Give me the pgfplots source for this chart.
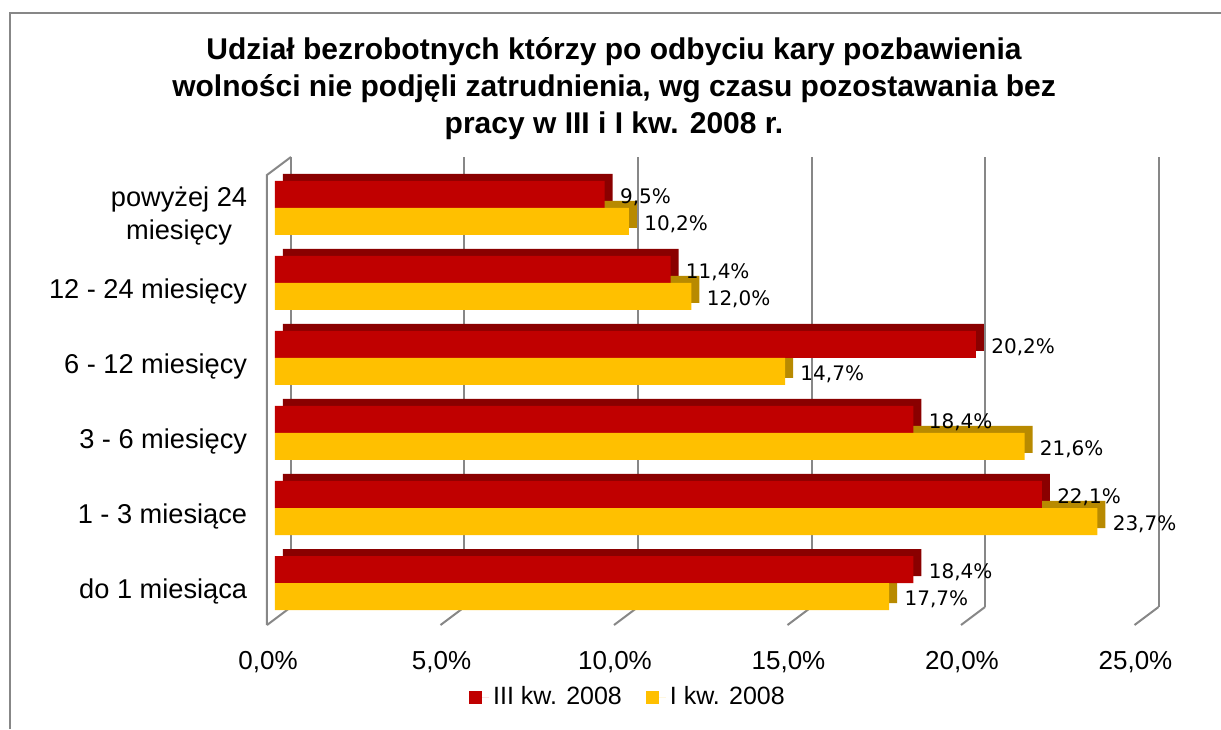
\documentclass[border=0pt]{standalone}
\usepackage{fontspec}
\setmainfont{Liberation Sans}
\newfontfamily\lblfont{DejaVu Sans}
\usepackage{pgfplots}
\pgfplotsset{compat=1.18}
\definecolor{cRed}{HTML}{C00000}
\definecolor{cRedD}{HTML}{8A0000}
\definecolor{cYel}{HTML}{FFC000}
\definecolor{cYelD}{HTML}{B88A00}
\definecolor{cGrid}{HTML}{878787}

% 0 = do 1 miesiaca (bottom) ... 5 = powyzej 24 miesiecy (top)
\pgfplotstableread{
cat red yel
0 18.4 17.7
1 22.1 23.7
2 18.4 21.6
3 20.2 14.7
4 11.4 12.0
5 9.5 10.2
}\datatable

\begin{document}
\begin{tikzpicture}
\path[use as bounding box] (0,0) rectangle (610.5pt,364.5pt);
% frame of the chart area (only top and left edges are visible)
\draw[cGrid, line width=1pt] (5pt,0) -- (5pt,358pt) -- (611pt,358pt);
\node[align=center, font=\bfseries\fontsize{15}{18.5}\selectfont] at (307pt,320pt)
  {Udział bezrobotnych którzy po odbyciu kary pozbawienia\\
   wolności nie podjęli zatrudnienia, wg czasu pozostawania bez\\
   pracy w III i I kw. 2008 r.};

\begin{axis}[
  at={(137.5pt,54.25pt)}, anchor=south west,
  scale only axis, width=433.75pt, height=225pt,
  xmin=0, xmax=25, ymin=-0.5, ymax=5.5,
  clip=false,
  axis line style={draw=none}, tick style={draw=none},
  xtick={0,5,...,25},
  xticklabels={{0,0\%},{5,0\%},{10,0\%},{15,0\%},{20,0\%},{25,0\%}},
  xticklabel style={anchor=center, yshift=-20.75pt, xshift=-3.5pt,
                    font=\fontsize{13}{16}\selectfont},
  ytick={0,...,5},
  yticklabels={do 1 miesiąca, 1 - 3 miesiące, 3 - 6 miesięcy, 6 - 12 miesięcy,
               12 - 24 miesięcy, {powyżej 24\\miesięcy}},
  yticklabel style={anchor=east, align=center, inner sep=0pt, xshift=-9.5pt, yshift=-4pt,
                    font=\fontsize{13.6}{16.5}\selectfont},
  xbar, bar width=0.36,
  legend style={at={(0.408,-0.17)}, anchor=center, draw=none, fill=none,
                legend columns=2, font=\fontsize{12.5}{15}\selectfont,
                /tikz/every even column/.append style={column sep=10pt}},
  legend image code/.code={\fill[#1] (0pt,-3.25pt) rectangle (6.5pt,3.25pt);
                           \path (0pt,0pt) -- (10pt,0pt);},
  point meta=x,
  every node near coord/.append style={anchor=west, inner sep=0pt, xshift=7.5pt, yshift=-1.5pt,
                font=\lblfont\fontsize{10}{12}\selectfont, text=black},
]
% back wall grid of the 3D chart
\pgfplotsinvokeforeach{0,5,10,15,20,25}{
  \draw[cGrid, line width=1pt] ([xshift=8pt]axis cs:#1,-0.32) -- ([xshift=8pt]axis cs:#1,5.68);
  \draw[cGrid, line width=1pt] ([xshift=8pt]axis cs:#1,-0.32) -- ++(-12pt,-9pt);
}
\draw[cGrid, line width=1pt] ([xshift=8pt]axis cs:0,5.68) -- ([xshift=-4pt]axis cs:0,5.44)
  -- ([xshift=-4pt]axis cs:0,-0.56);

% depth faces
\addplot[bar shift=0.18, fill=cRedD, draw=none, xshift=4pt, yshift=3.5pt, forget plot]
  table[x=red, y=cat] {\datatable};
\addplot[bar shift=-0.18, fill=cYelD, draw=none, xshift=4pt, yshift=3.5pt, forget plot]
  table[x=yel, y=cat] {\datatable};
% front faces
\addplot[bar shift=0.18, fill=cRed, draw=none,
  nodes near coords={\pgfmathprintnumber[fixed,fixed zerofill,precision=1,use comma,assume math mode=true]{\pgfplotspointmeta}\%}]
  table[x=red, y=cat] {\datatable};
\addlegendentry{III kw. 2008}
\addplot[bar shift=-0.18, fill=cYel, draw=none,
  nodes near coords={\pgfmathprintnumber[fixed,fixed zerofill,precision=1,use comma,assume math mode=true]{\pgfplotspointmeta}\%}]
  table[x=yel, y=cat] {\datatable};
\addlegendentry{I kw. 2008}
\end{axis}
\end{tikzpicture}
\end{document}
